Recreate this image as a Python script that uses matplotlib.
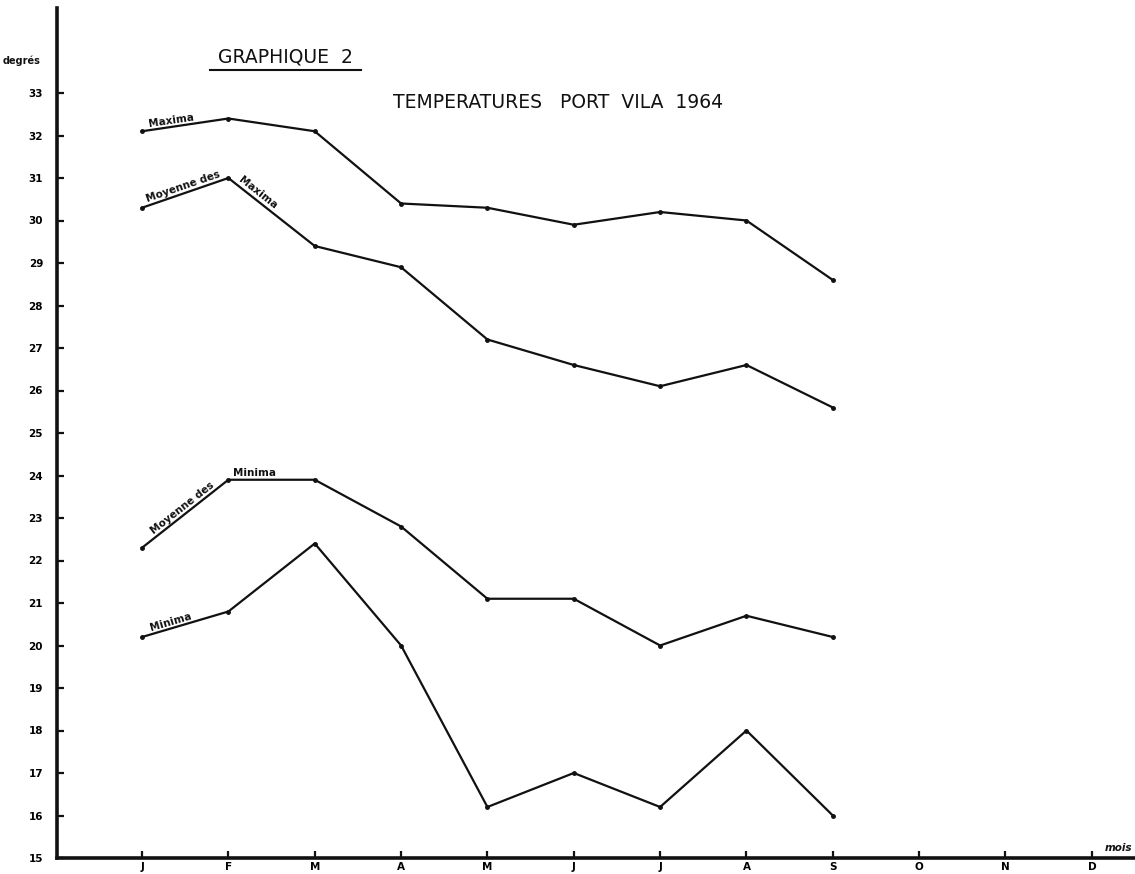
import numpy as np
import matplotlib
matplotlib.use("Agg")
import matplotlib.pyplot as plt

# ── Data ─────────────────────────────────────────────────────────────────────
months = ["J", "F", "M", "A", "M", "J", "J", "A", "S", "O", "N", "D"]
yticks = list(range(15, 34))

maxima = [32.1, 32.4, 32.1, 30.4, 30.3, 29.9, 30.2, 30.0, 28.6]
moy_maxima = [30.3, 31.0, 29.4, 28.9, 27.2, 26.6, 26.1, 26.6, 25.6]
moy_minima = [22.3, 23.9, 23.9, 22.8, 21.1, 21.1, 20.0, 20.7, 20.2]
minima = [20.2, 20.8, 22.4, 20.0, 16.2, 17.0, 16.2, 18.0, 16.0]

W, H = 1135, 874
fig = plt.figure(figsize=(W / 100, H / 100), dpi=100)
ax = fig.add_axes([57 / W, (H - 858) / H, (W - 57) / W, (858 - 8) / H])

x = np.arange(len(months))
ink = "#111111"
for series in (maxima, moy_maxima, moy_minima, minima):
    ax.plot(x[:len(series)], series, color=ink, lw=1.6, marker="o",
            markersize=2.5, solid_joinstyle="round")

ax.set_xlim(-0.985, 11.5)
ax.set_ylim(15, 35)

for s in ("top", "right"):
    ax.spines[s].set_visible(False)
for s in ("left", "bottom"):
    ax.spines[s].set_linewidth(2.6)
    ax.spines[s].set_color(ink)

ax.set_xticks(x)
ax.set_xticklabels(months)
ax.set_yticks(yticks)
ax.set_yticklabels([str(v) for v in yticks])
ax.tick_params(axis="both", direction="in", length=5, width=1.6, color=ink,
               labelsize=7.5)
ax.tick_params(axis="y", pad=10)
ax.tick_params(axis="x", pad=3)
for lab in ax.get_xticklabels() + ax.get_yticklabels():
    lab.set_fontweight("bold")

# ── Axis captions and titles ─────────────────────────────────────────────────
fig.text(22 / W, 1 - 61 / H, "degrés", fontsize=7, fontweight="bold",
         ha="center", va="center", color=ink)
fig.text(1118 / W, 1 - 848 / H, "mois", fontsize=7.5, fontweight="bold",
         style="italic", ha="center", va="center", color=ink)
fig.text(285 / W, 1 - 57 / H, "GRAPHIQUE  2", fontsize=13.5, ha="center",
         va="center", color=ink, fontweight="medium")
fig.lines.append(plt.Line2D([210 / W, 361 / W], [1 - 70 / H, 1 - 70 / H],
                            transform=fig.transFigure, color=ink, lw=1.5))
fig.text(558 / W, 1 - 103 / H, "TEMPERATURES   PORT  VILA  1964",
         fontsize=13.5, ha="center", va="center", color=ink,
         fontweight="medium")


# ── Labels along the curves ──────────────────────────────────────────────────
def along(text, series, i, frac=0.5, offset=1):
    p0 = ax.transData.transform((x[i], series[i]))
    p1 = ax.transData.transform((x[i + 1], series[i + 1]))
    ang = np.degrees(np.arctan2(p1[1] - p0[1], p1[0] - p0[0]))
    xm = x[i] + frac * (x[i + 1] - x[i])
    ym = series[i] + frac * (series[i + 1] - series[i])
    ax.annotate(text, (xm, ym), xytext=(0, offset), textcoords="offset points",
                rotation=ang, rotation_mode="anchor", ha="center", va="bottom",
                fontsize=7.5, fontweight="bold", color=ink)


along("Maxima", maxima, 0, frac=0.35)
along("Moyenne des", moy_maxima, 0, frac=0.5)
along("Maxima", moy_maxima, 1, frac=0.3)
along("Moyenne des", moy_minima, 0, frac=0.5)
along("Minima", moy_minima, 1, frac=0.3)
along("Minima", minima, 0, frac=0.35)

fig.savefig("out.png", dpi=100)
